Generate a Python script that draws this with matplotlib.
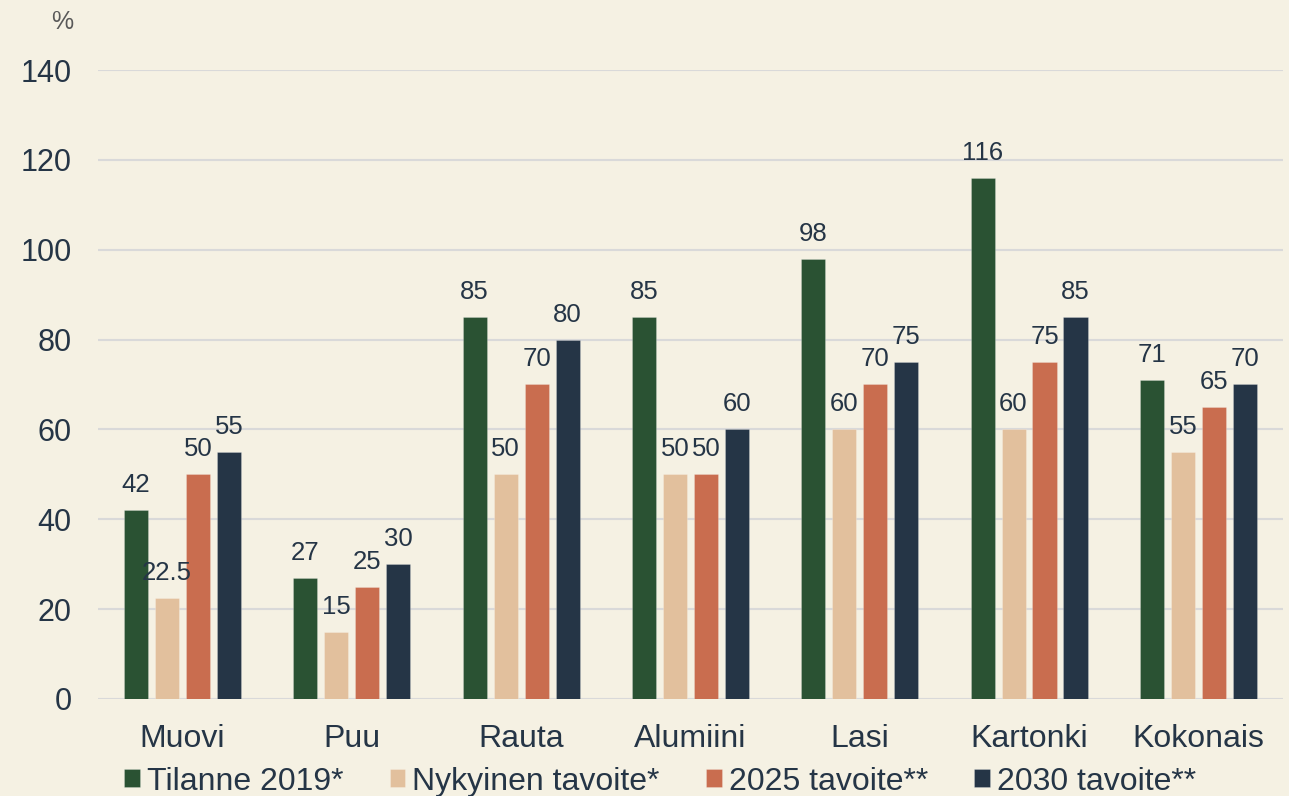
import matplotlib.pyplot as plt
import numpy as np

categories = ['Muovi', 'Puu', 'Rauta', 'Alumiini', 'Lasi', 'Kartonki', 'Kokonais']
tilanne_2019 = [42, 27, 85, 85, 98, 116, 71]
nykyinen = [22.5, 15, 50, 50, 60, 60, 55]
tavoite_2025 = [50, 25, 70, 50, 70, 75, 65]
tavoite_2030 = [55, 30, 80, 60, 75, 85, 70]
series_names = ['Tilanne 2019*', 'Nykyinen tavoite*', '2025 tavoite**', '2030 tavoite**']

colors = ['#2a5233', '#e2c09d', '#c96d4f', '#253546']
bg = '#f5f1e3'
txt = '#253546'

plt.rcParams['font.family'] = ['Liberation Sans', 'DejaVu Sans']

fig = plt.figure(figsize=(12.89, 7.96), dpi=100, facecolor=bg)
ax = fig.add_axes([0.076, 0.122, 0.9193, 0.790])
ax.set_facecolor(bg)

x = np.arange(len(categories))
w = 0.142
step = 0.183
all_series = [tilanne_2019, nykyinen, tavoite_2025, tavoite_2030]
handles = []
for i, vals in enumerate(all_series):
    pos = x + (i - 1.5) * step
    b = ax.bar(pos, vals, width=w, color=colors[i], edgecolor='#ffffff40', linewidth=0.6,
               label=series_names[i], zorder=3)
    handles.append(b)
    for px, v in zip(pos, vals):
        s = ('%g' % v)
        ax.annotate(s, (px, v), xytext=(0, 18), textcoords='offset points',
                    ha='center', va='center', fontsize=18.5, color=txt, zorder=4)

ax.set_xlim(-0.5, len(categories) - 0.5)
ax.set_ylim(0, 140)
ax.set_yticks(range(0, 141, 20))
ax.grid(axis='y', color='#d9d9d9', linewidth=1.5, zorder=0)
ax.set_xticks(x)
ax.set_xticklabels(categories)
ax.tick_params(axis='both', length=0, colors=txt)
ax.tick_params(axis='y', pad=19, labelsize=22)
ax.tick_params(axis='x', pad=18, labelsize=23)
for sp in ax.spines.values():
    sp.set_visible(False)

fig.text(0.048, 0.972, '%', fontsize=18, color='#595959', ha='center', va='center')

fig.legend(handles=handles, labels=series_names, loc='center', bbox_to_anchor=(0.512, 0.018),
           ncol=4, frameon=False, handlelength=0.49, handleheight=0.49,
           handletextpad=0.22, columnspacing=1.45, labelcolor=txt,
           prop={'family': ['Liberation Sans', 'DejaVu Sans'], 'size': 23})

fig.savefig('out.png', dpi=100, facecolor=bg)
